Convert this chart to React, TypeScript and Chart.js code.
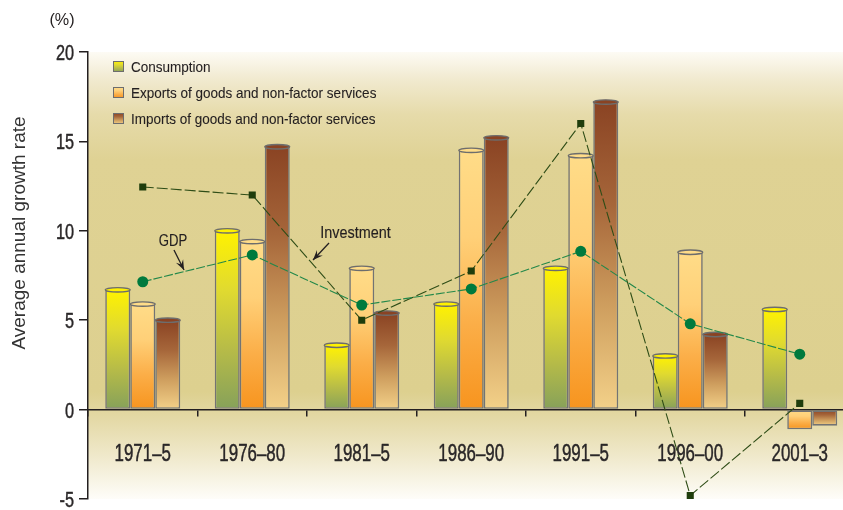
import React, { useEffect, useRef } from 'react';
import { Chart, registerables } from 'chart.js';

Chart.register(...registerables);

// ---------- data ----------
const periods = ['1971–5', '1976–80', '1981–5', '1986–90', '1991–5', '1996–00', '2001–3'];
const consumption = [6.7, 10.0, 3.6, 5.9, 7.9, 3.0, 5.6];
const exportsGNFS = [5.9, 9.4, 7.9, 14.5, 14.2, 8.8, -1.1];
const importsGNFS = [5.0, 14.7, 5.4, 15.2, 17.2, 4.2, -0.9];
const gdp = [7.15, 8.65, 5.85, 6.75, 8.85, 4.8, 3.1];
const investment = [12.45, 12.0, 5.0, 7.75, 16.0, -4.8, 0.35];
const seriesLabels = [
  'Consumption',
  'Exports of goods and non-factor services',
  'Imports of goods and non-factor services',
];
const lineLabels = ['GDP', 'Investment'];
const yMin = -5;
const yMax = 20;
const yStep = 5;

// ---------- styles ----------
const FONT = "'Liberation Sans', Arial, sans-serif";
const TEXT = '#231f20';
const consumptionStops = ['#fff200', '#e0da30', '#b6bb48', '#86a15a'];
const exportsStops = ['#ffdc88', '#ffd078', '#fbae48', '#f7941e'];
const importsStops = ['#8a4323', '#a6663a', '#cf9f5f', '#f3d189'];
const allStops = [consumptionStops, exportsStops, importsStops];

function makeGrad(ctx: CanvasRenderingContext2D, top: number, bot: number, stops: string[]) {
  const g = ctx.createLinearGradient(0, top, 0, bot + 0.01);
  stops.forEach((c, i) => g.addColorStop(i / (stops.length - 1), c));
  return g;
}

// draws condensed text; y is the alphabetic baseline
function drawText(
  ctx: CanvasRenderingContext2D,
  text: string,
  x: number,
  y: number,
  size: number,
  sx: number,
  align: 'left' | 'center' | 'right',
  weight = 0,
  color = TEXT,
) {
  ctx.save();
  ctx.font = `${size}px ${FONT}`;
  ctx.textBaseline = 'alphabetic';
  ctx.textAlign = 'left';
  ctx.fillStyle = color;
  const w = ctx.measureText(text).width * sx;
  const left = align === 'center' ? x - w / 2 : align === 'right' ? x - w : x;
  ctx.translate(left, y);
  ctx.scale(sx, 1);
  ctx.fillText(text, 0, 0);
  if (weight > 0) {
    ctx.lineWidth = weight;
    ctx.strokeStyle = color;
    ctx.lineJoin = 'round';
    ctx.strokeText(text, 0, 0);
  }
  ctx.restore();
}

const barFill = (stops: string[]) => (c: any) => {
  const chart = c.chart;
  if (!chart.chartArea || c.type !== 'data' || !chart.scales.y) return stops[1];
  const ys = chart.scales.y;
  const p0 = ys.getPixelForValue(0);
  const p1 = ys.getPixelForValue(c.raw as number);
  return makeGrad(chart.ctx, Math.min(p0, p1), Math.max(p0, p1), stops);
};

const decorPlugin = {
  id: 'decor',
  beforeDraw(chart: any) {
    const { ctx, chartArea: a } = chart;
    ctx.save();
    ctx.fillStyle = '#ffffff';
    ctx.fillRect(0, 0, chart.width, chart.height);
    const g = ctx.createLinearGradient(0, a.top, 0, a.bottom);
    g.addColorStop(0, '#fdfbf4');
    g.addColorStop(0.06, '#f1ead0');
    g.addColorStop(0.14, '#e6dbaa');
    g.addColorStop(0.24, '#dfd294');
    g.addColorStop(0.76, '#ddd08f');
    g.addColorStop(0.82, '#e4d9a6');
    g.addColorStop(0.9, '#efe8c9');
    g.addColorStop(1, '#fefdf9');
    ctx.fillStyle = g;
    ctx.fillRect(a.left, a.top, a.right - a.left, a.bottom - a.top);
    ctx.restore();
  },
  afterDatasetDraw(chart: any, args: any) {
    const meta = args.meta;
    if (meta.type !== 'bar') return;
    const stops = allStops[seriesLabels.indexOf(meta.label)];
    if (!stops) return;
    const ctx = chart.ctx;
    ctx.save();
    meta.data.forEach((el: any) => {
      if (el.y > el.base) return; // negative bar: no cap
      const w = el.width;
      ctx.beginPath();
      ctx.ellipse(el.x, el.y, w / 2, 2.2, 0, 0, Math.PI * 2);
      ctx.fillStyle = stops[0];
      ctx.fill();
      ctx.lineWidth = 1.4;
      ctx.strokeStyle = '#6d6d6d';
      ctx.stroke();
    });
    ctx.restore();
  },
  afterDraw(chart: any) {
    const { ctx, chartArea: a } = chart;
    const xs = chart.scales.x;
    const ys = chart.scales.y;
    const zero = ys.getPixelForValue(0);
    // x tick labels
    periods.forEach((p, i) => {
      drawText(ctx, p, xs.getPixelForValue(i), zero + 51.5, 23, 0.735, 'center', 0.45, '#2a2728');
    });
    // y tick labels
    ys.ticks.forEach((t: any) => {
      drawText(ctx, String(t.value), a.left - 14, ys.getPixelForValue(t.value) + 7.9, 22, 0.74, 'right', 0.45, '#2a2728');
    });
    // (%) label
    drawText(ctx, '(%)', 62, 25, 17, 0.95, 'center', 0);
    // y title
    ctx.save();
    ctx.translate(20, 233);
    ctx.rotate(-Math.PI / 2);
    ctx.font = `19px ${FONT}`;
    ctx.fillStyle = '#333';
    ctx.textAlign = 'center';
    ctx.textBaseline = 'middle';
    ctx.fillText('Average annual growth rate', 0, 0);
    ctx.restore();
    // legend
    seriesLabels.forEach((lab, i) => {
      const bx = a.left + 25;
      const by = a.top + 9 + i * 26;
      ctx.save();
      ctx.fillStyle = makeGrad(ctx, by, by + 11, allStops[i]);
      ctx.fillRect(bx, by, 11, 11);
      ctx.lineWidth = 1;
      ctx.strokeStyle = '#6d6d6d';
      ctx.strokeRect(bx + 0.5, by + 0.5, 10, 10);
      ctx.restore();
      drawText(ctx, lab, bx + 18, by + 11, 15, 0.9, 'left', 0.1);
    });
    // annotations
    const arrow = (x1: number, y1: number, x2: number, y2: number) => {
      ctx.save();
      ctx.beginPath();
      ctx.moveTo(x1, y1);
      ctx.lineTo(x2, y2);
      ctx.strokeStyle = '#231f20';
      ctx.lineWidth = 1.3;
      ctx.stroke();
      const ang = Math.atan2(y2 - y1, x2 - x1);
      const L = 10, W = 4;
      ctx.beginPath();
      ctx.moveTo(x2, y2);
      ctx.lineTo(x2 - L * Math.cos(ang) + W * Math.sin(ang), y2 - L * Math.sin(ang) - W * Math.cos(ang));
      ctx.lineTo(x2 - L * 0.6 * Math.cos(ang), y2 - L * 0.6 * Math.sin(ang));
      ctx.lineTo(x2 - L * Math.cos(ang) - W * Math.sin(ang), y2 - L * Math.sin(ang) + W * Math.cos(ang));
      ctx.closePath();
      ctx.fillStyle = '#231f20';
      ctx.fill();
      ctx.restore();
    };
    drawText(ctx, lineLabels[0], xs.getPixelForValue(0.276), ys.getPixelForValue(9.49) + 5.8, 16, 0.82, 'center', 0.15);
    arrow(xs.getPixelForValue(0.285), ys.getPixelForValue(8.93), xs.getPixelForValue(0.377), ys.getPixelForValue(7.81));
    drawText(ctx, lineLabels[1], xs.getPixelForValue(1.943), ys.getPixelForValue(9.9) + 5.8, 16, 0.9, 'center', 0.15);
    arrow(xs.getPixelForValue(1.701), ys.getPixelForValue(9.32), xs.getPixelForValue(1.555), ys.getPixelForValue(8.37));
  },
};

export default function App() {
  const ref = useRef<HTMLCanvasElement | null>(null);
  useEffect(() => {
    if (!ref.current) return;
    const barCommon = {
      type: 'bar' as const,
      borderColor: '#737373',
      borderWidth: 1.6,
      borderSkipped: false,
      categoryPercentage: 0.685,
      barPercentage: 1.0,
      order: 2,
    };
    const chart = new Chart(ref.current, {
      type: 'bar',
      data: {
        labels: periods,
        datasets: [
          {
            type: 'line',
            label: lineLabels[0],
            data: gdp,
            borderColor: '#23884a',
            borderWidth: 1.1,
            borderDash: [9, 2],
            pointStyle: 'circle',
            pointRadius: 5.5,
            pointBackgroundColor: '#007a3d',
            pointBorderColor: '#007a3d',
            pointBorderWidth: 0,
            fill: false,
            tension: 0,
            order: 0,
          } as any,
          {
            type: 'line',
            label: lineLabels[1],
            data: investment,
            borderColor: '#2f4d17',
            borderWidth: 1.1,
            borderDash: [11, 3],
            pointStyle: 'rect',
            pointRadius: 5,
            pointBackgroundColor: '#1f3d0c',
            pointBorderColor: '#1f3d0c',
            pointBorderWidth: 0,
            fill: false,
            tension: 0,
            order: 1,
          } as any,
          { ...barCommon, label: seriesLabels[0], data: consumption, backgroundColor: barFill(consumptionStops) } as any,
          { ...barCommon, label: seriesLabels[1], data: exportsGNFS, backgroundColor: barFill(exportsStops) } as any,
          { ...barCommon, label: seriesLabels[2], data: importsGNFS, backgroundColor: barFill(importsStops) } as any,
        ],
      },
      options: {
        responsive: false,
        animation: false,
        devicePixelRatio: 1,
        layout: { padding: { left: 0, top: 52, right: 5.5, bottom: 11 } },
        plugins: { legend: { display: false }, tooltip: { enabled: false } },
        scales: {
          x: {
            position: { y: 0 } as any,
            offset: true,
            grid: {
              offset: true,
              drawOnChartArea: false,
              drawTicks: true,
              tickLength: 6,
              color: '#231f20',
              lineWidth: 1.5,
            },
            border: { display: true, color: '#231f20', width: 1.5 },
            ticks: { display: false },
          },
          y: {
            min: yMin,
            max: yMax,
            afterFit: (s: any) => {
              s.width = 88;
            },
            grid: {
              drawOnChartArea: false,
              drawTicks: true,
              tickLength: 9,
              color: '#231f20',
              lineWidth: 1.5,
            },
            border: { display: true, color: '#231f20', width: 1.5 },
            ticks: { stepSize: yStep, display: false },
          },
        },
      },
      plugins: [decorPlugin],
    });
    return () => chart.destroy();
  }, []);
  return (
    <div style={{ position: 'fixed', left: 0, top: 0, width: 843, height: 510, overflow: 'hidden', background: '#fff' }}>
      <canvas ref={ref} width={860} height={510} style={{ width: 860, height: 510, display: 'block' }} />
    </div>
  );
}
